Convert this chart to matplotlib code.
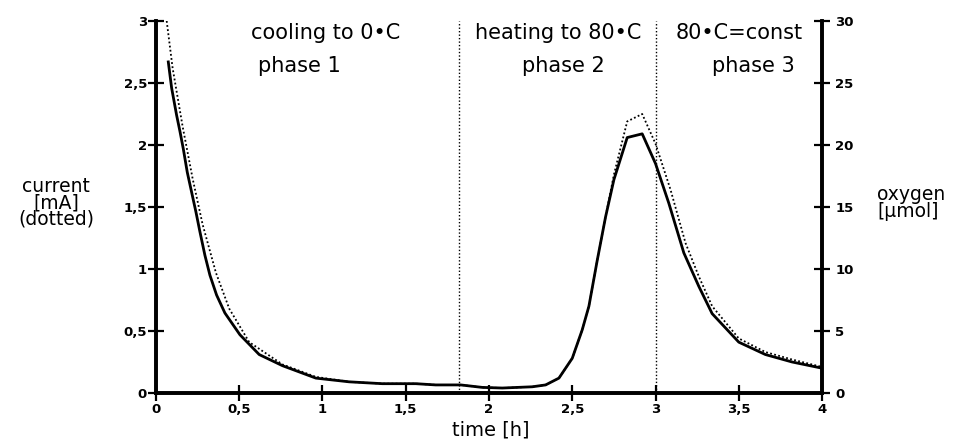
import matplotlib
matplotlib.use("Agg")
import matplotlib.pyplot as plt

# oxygen (solid line, right axis, umol)
t_oxygen = [0.074, 0.094, 0.124, 0.144, 0.164, 0.188, 0.214, 0.24, 0.264, 0.294,
            0.324, 0.364, 0.414, 0.504, 0.62, 0.76, 0.96, 1.16, 1.36, 1.56, 1.68,
            1.83, 1.96, 2.08, 2.26, 2.34, 2.42, 2.5, 2.56, 2.6, 2.65, 2.7, 2.75,
            2.83, 2.92, 3.0, 3.08, 3.17, 3.26, 3.34, 3.5, 3.66, 3.82, 4.0]
oxygen = [26.7, 24.6, 22.4, 21.1, 19.7, 17.8, 16.2, 14.6, 13.0, 11.1,
          9.5, 7.9, 6.45, 4.7, 3.1, 2.2, 1.2, 0.9, 0.75, 0.75, 0.65,
          0.65, 0.45, 0.4, 0.5, 0.65, 1.2, 2.8, 5.1, 7.0, 10.7, 14.2, 17.2,
          20.6, 20.9, 18.5, 15.3, 11.3, 8.6, 6.4, 4.1, 3.1, 2.5, 2.0]

# current (dotted line, left axis, mA)
t_current = [0.055, 0.1, 0.16, 0.22, 0.28, 0.36, 0.44, 0.56, 0.76, 0.96, 1.16,
             1.36, 1.56, 1.68, 1.83, 1.96, 2.08, 2.26, 2.34, 2.42, 2.5, 2.56,
             2.6, 2.65, 2.7, 2.75, 2.83, 2.92, 3.0, 3.09, 3.18, 3.26, 3.34, 3.5,
             3.66, 3.82, 4.0]
current = [3.1, 2.62, 2.15, 1.73, 1.36, 0.97, 0.68, 0.41, 0.23, 0.13, 0.09,
           0.075, 0.075, 0.065, 0.065, 0.045, 0.04, 0.05, 0.065, 0.12, 0.28, 0.51,
           0.70, 1.07, 1.42, 1.76, 2.19, 2.25, 2.01, 1.64, 1.21, 0.94, 0.70, 0.44,
           0.33, 0.27, 0.21]

phase_bounds = [1.82, 3.0]

x_ticks = [0, 0.5, 1, 1.5, 2, 2.5, 3, 3.5, 4]
left_ticks = [0, 0.5, 1, 1.5, 2, 2.5, 3]
right_ticks = [0, 5, 10, 15, 20, 25, 30]


def comma(v):
    return f"{v:g}".replace(".", ",")


fig = plt.figure(figsize=(9.61, 4.43), dpi=100)
ax = fig.add_axes([0.1623, 0.1129, 0.8554 - 0.1623, 0.9526 - 0.1129])
ax2 = ax.twinx()

ax.plot(t_current, current, color="black", lw=1.3, linestyle=(0, (1, 1.3)))
ax2.plot(t_oxygen, oxygen, color="black", lw=2.0)

for b in phase_bounds:
    ax.axvline(b, color="black", lw=1.0, linestyle=(0, (1, 1.5)))

ax.set_xlim(0, 4)
ax.set_ylim(0, 3)
ax2.set_ylim(0, 30)

for a in (ax, ax2):
    a.spines["top"].set_visible(False)
    for s in ("left", "right", "bottom"):
        a.spines[s].set_linewidth(2.6)

ax.set_xticks(x_ticks)
ax.set_xticklabels([comma(v) for v in x_ticks])
ax.set_yticks(left_ticks)
ax.set_yticklabels([comma(v) for v in left_ticks])
ax2.set_yticks(right_ticks)
ax2.set_yticklabels([str(v) for v in right_ticks])

for lab in ax.get_xticklabels() + ax.get_yticklabels() + ax2.get_yticklabels():
    lab.set_fontsize(9.5)
    lab.set_fontweight("bold")

ax.tick_params(axis="y", direction="inout", length=11, width=1.6, pad=1)
ax.tick_params(axis="x", direction="inout", length=11, width=1.6, pad=2)
ax2.tick_params(axis="y", direction="inout", length=11, width=1.6, pad=4)

# phase annotations (baseline placed in data units of the left axis)
txt = dict(fontsize=15, ha="center", va="baseline")
ax.text(1.02, 2.855, "cooling to 0•C", **txt)
ax.text(0.86, 2.59, "phase 1", **txt)
ax.text(2.415, 2.855, "heating to 80•C", **txt)
ax.text(2.445, 2.59, "phase 2", **txt)
ax.text(3.5, 2.855, "80•C=const", **txt)
ax.text(3.585, 2.59, "phase 3", **txt)

fig.text(56 / 961, 1 - 203 / 443, "current\n[mA]\n(dotted)", fontsize=13.5,
         ha="center", va="center", linespacing=0.82)
fig.text(877 / 961, 1 - 203 / 443, "oxygen\n[µmol]", fontsize=13.5,
         ha="left", va="center", linespacing=0.82)
fig.text(491 / 961, 1 - 430 / 443, "time [h]", fontsize=14,
         ha="center", va="center")

fig.savefig("out.png", dpi=100)
